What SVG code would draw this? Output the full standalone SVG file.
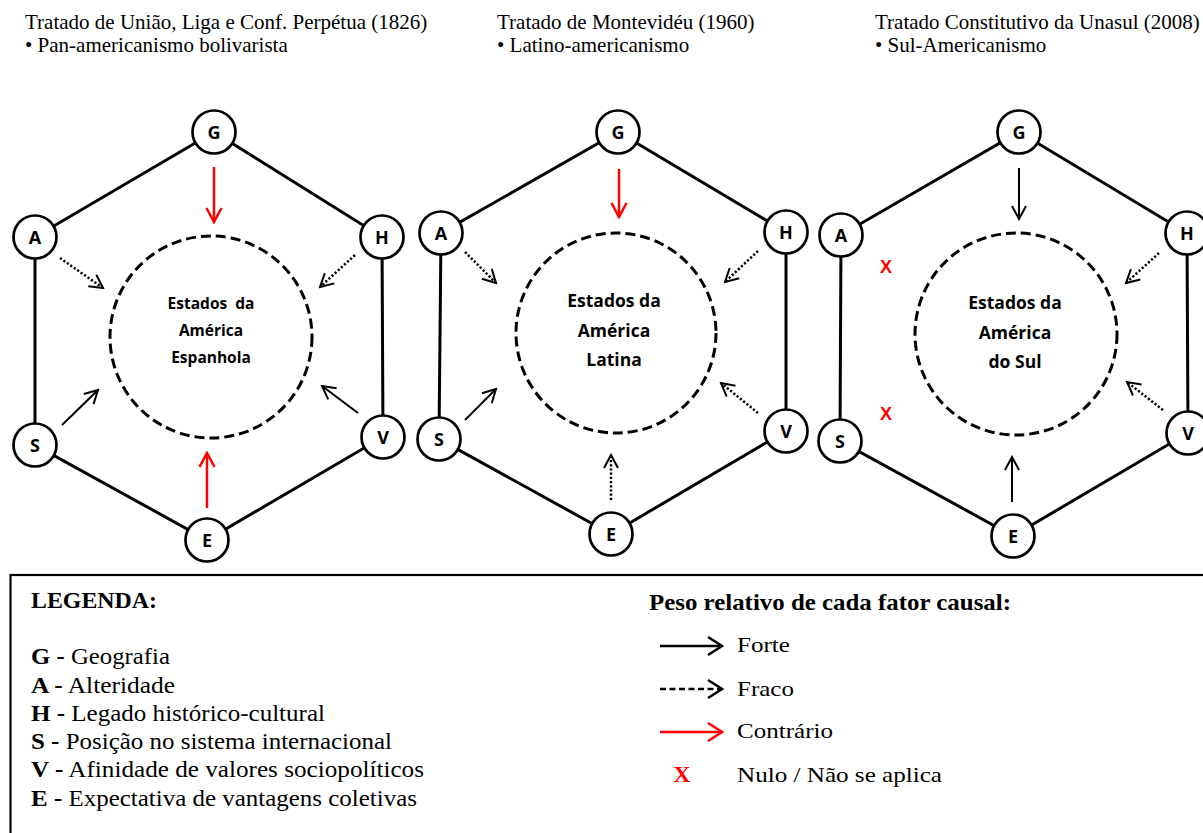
<svg xmlns="http://www.w3.org/2000/svg" width="1203" height="833" viewBox="0 0 1203 833">
  <style>
    .title { font-family: "Liberation Serif", "Times New Roman", serif; font-size: 21px; fill: #000; }
    .edge { stroke: #000; stroke-width: 3; fill: none; }
    .node circle { fill: #fff; stroke: #000; stroke-width: 2.7; }
    .node text { font-family: "Open Sans", "Noto Sans", sans-serif; font-weight: 700; font-size: 18px; text-anchor: middle; fill: #000; }
    .core { fill: none; stroke: #000; stroke-width: 3; stroke-dasharray: 10 5; }
    .core-label { font-family: "Open Sans", "Noto Sans", sans-serif; font-weight: 700; font-size: 17.5px; text-anchor: middle; fill: #000; }
    .core-label.small { font-size: 15.5px; }
    .strong { stroke: #000; stroke-width: 2; fill: none; marker-end: url(#hd-black); }
    .weak { stroke: #000; stroke-width: 2.5; stroke-dasharray: 2.2 2; fill: none; marker-end: url(#hd-black); }
    .contrary { stroke: #ff0000; stroke-width: 2.5; fill: none; marker-end: url(#hd-red); }
    .null { font-family: "Liberation Sans", Arial, sans-serif; font-weight: 700; font-size: 18px; fill: #ff0000; text-anchor: middle; }
    .leg { font-family: "Liberation Serif", "Times New Roman", serif; font-size: 23px; fill: #000; }
    .leg-r { font-family: "Liberation Serif", "Times New Roman", serif; font-size: 22px; fill: #000; }
    .leg-b { font-family: "Liberation Serif", "Times New Roman", serif; font-size: 22.5px; font-weight: 700; fill: #000; }
    .leg-x { font-family: "Liberation Serif", "Times New Roman", serif; font-size: 24px; font-weight: 700; fill: #ff0000; text-anchor: middle; }
  </style>
  <defs>
    <marker id="hd-black" viewBox="-16 -10 18 20" markerWidth="18" markerHeight="20" refX="0" refY="0" orient="auto" markerUnits="userSpaceOnUse">
      <path d="M-13,-7 L0,0 L-13,7" fill="none" stroke="#000" stroke-width="2"/>
    </marker>
    <marker id="hd-red" viewBox="-16 -10 18 20" markerWidth="18" markerHeight="20" refX="0" refY="0" orient="auto" markerUnits="userSpaceOnUse">
      <path d="M-14,-7.5 L0,0 L-14,7.5" fill="none" stroke="#ff0000" stroke-width="2.5"/>
    </marker>
    <marker id="lg-black" viewBox="-18 -12 20 24" markerWidth="20" markerHeight="24" refX="0" refY="0" orient="auto" markerUnits="userSpaceOnUse">
      <path d="M-14,-9 L0,0 L-14,9" fill="none" stroke="#000" stroke-width="2.5"/>
    </marker>
    <marker id="lg-red" viewBox="-18 -12 20 24" markerWidth="20" markerHeight="24" refX="0" refY="0" orient="auto" markerUnits="userSpaceOnUse">
      <path d="M-14,-9 L0,0 L-14,9" fill="none" stroke="#ff0000" stroke-width="2.5"/>
    </marker>
  </defs>

  <rect width="1203" height="833" fill="#fff"/>

  <!-- Headings above each hexagon -->
  <g id="titles">
    <text class="title" x="25" y="29">Tratado de União, Liga e Conf. Perpétua (1826)</text>
    <text class="title" x="25" y="52">• Pan-americanismo bolivarista</text>
    <text class="title" x="497" y="29">Tratado de Montevidéu (1960)</text>
    <text class="title" x="497" y="52">• Latino-americanismo</text>
    <text class="title" x="875" y="29">Tratado Constitutivo da Unasul (2008)</text>
    <text class="title" x="875" y="52">• Sul-Americanismo</text>
  </g>

  <!-- Hexagon outlines and causal arrows -->
  <g id="connectors">
    <!-- hexagon 1 -->
    <polyline class="edge" points="214,132 382,237 383,437 207,540 35,445 35,237 214,132"/>
    <!-- hexagon 2 -->
    <polyline class="edge" points="618,132 786,232 786,431 611,534 439,439 441,233 618,132"/>
    <!-- hexagon 3 -->
    <polyline class="edge" points="1019,132 1187,233 1188,433 1013,536 840,441 841,235 1019,132"/>

    <!-- arrows, hexagon 1 -->
    <line class="contrary" x1="214" y1="167" x2="214" y2="222"/>
    <line class="contrary" x1="207" y1="508" x2="207" y2="453"/>
    <line class="weak" x1="60" y1="258" x2="103" y2="288"/>
    <line class="weak" x1="355" y1="255" x2="320" y2="287"/>
    <line class="strong" x1="62" y1="425" x2="98" y2="390"/>
    <line class="strong" x1="358" y1="413" x2="322" y2="386"/>

    <!-- arrows, hexagon 2 -->
    <line class="contrary" x1="619" y1="169" x2="619" y2="217"/>
    <line class="weak" x1="465" y1="252" x2="496" y2="283"/>
    <line class="weak" x1="758" y1="251" x2="725" y2="282"/>
    <line class="strong" x1="465" y1="420" x2="496" y2="389"/>
    <line class="weak" x1="758" y1="413" x2="721" y2="383"/>
    <line class="weak" x1="611" y1="500" x2="611" y2="455"/>

    <!-- arrows, hexagon 3 -->
    <line class="strong" x1="1019" y1="168" x2="1019" y2="219"/>
    <line class="weak" x1="1159" y1="253" x2="1126" y2="283"/>
    <line class="weak" x1="1163" y1="410" x2="1127" y2="382"/>
    <line class="strong" x1="1012" y1="502" x2="1012" y2="457"/>
  </g>

  <!-- Null markers -->
  <g id="nulls">
    <text class="null" x="886" y="273">X</text>
    <text class="null" x="886" y="420">X</text>
  </g>

  <!-- Central groupings -->
  <g id="core-1">
    <circle class="core" cx="211" cy="337" r="101"/>
    <text class="core-label small" x="211" y="309" xml:space="preserve">Estados  da</text>
    <text class="core-label small" x="211" y="336">América</text>
    <text class="core-label small" x="211" y="363">Espanhola</text>
  </g>
  <g id="core-2">
    <circle class="core" cx="616" cy="333" r="100"/>
    <text class="core-label" x="614" y="307">Estados da</text>
    <text class="core-label" x="614" y="337">América</text>
    <text class="core-label" x="614" y="366">Latina</text>
  </g>
  <g id="core-3">
    <circle class="core" cx="1016" cy="334" r="101"/>
    <text class="core-label" x="1015" y="309">Estados da</text>
    <text class="core-label" x="1015" y="339">América</text>
    <text class="core-label" x="1015" y="368">do Sul</text>
  </g>

  <!-- Factor nodes, hexagon 1 -->
  <g id="h1-G" class="node"><circle cx="214" cy="132" r="21.5"/><text x="214" y="138.5">G</text></g>
  <g id="h1-A" class="node"><circle cx="35" cy="237" r="21.5"/><text x="35" y="243.5">A</text></g>
  <g id="h1-H" class="node"><circle cx="382" cy="237" r="21.5"/><text x="382" y="243.5">H</text></g>
  <g id="h1-S" class="node"><circle cx="35" cy="445" r="21.5"/><text x="35" y="451.5">S</text></g>
  <g id="h1-V" class="node"><circle cx="383" cy="437" r="21.5"/><text x="383" y="443.5">V</text></g>
  <g id="h1-E" class="node"><circle cx="207" cy="540" r="21.5"/><text x="207" y="546.5">E</text></g>

  <!-- Factor nodes, hexagon 2 -->
  <g id="h2-G" class="node"><circle cx="618" cy="132" r="21.5"/><text x="618" y="138.5">G</text></g>
  <g id="h2-A" class="node"><circle cx="441" cy="233" r="21.5"/><text x="441" y="239.5">A</text></g>
  <g id="h2-H" class="node"><circle cx="786" cy="232" r="21.5"/><text x="786" y="238.5">H</text></g>
  <g id="h2-S" class="node"><circle cx="439" cy="439" r="21.5"/><text x="439" y="445.5">S</text></g>
  <g id="h2-V" class="node"><circle cx="786" cy="431" r="21.5"/><text x="786" y="437.5">V</text></g>
  <g id="h2-E" class="node"><circle cx="611" cy="534" r="21.5"/><text x="611" y="540.5">E</text></g>

  <!-- Factor nodes, hexagon 3 -->
  <g id="h3-G" class="node"><circle cx="1019" cy="132" r="21.5"/><text x="1019" y="138.5">G</text></g>
  <g id="h3-A" class="node"><circle cx="841" cy="235" r="21.5"/><text x="841" y="241.5">A</text></g>
  <g id="h3-H" class="node"><circle cx="1187" cy="233" r="21.5"/><text x="1187" y="239.5">H</text></g>
  <g id="h3-S" class="node"><circle cx="840" cy="441" r="21.5"/><text x="840" y="447.5">S</text></g>
  <g id="h3-V" class="node"><circle cx="1188" cy="433" r="21.5"/><text x="1188" y="439.5">V</text></g>
  <g id="h3-E" class="node"><circle cx="1013" cy="536" r="21.5"/><text x="1013" y="542.5">E</text></g>

  <!-- Legend -->
  <g id="legend">
    <rect x="10.5" y="575" width="1210" height="280" fill="#fff" stroke="#000" stroke-width="2.2"/>
    <text class="leg-b" x="31" y="608" textLength="126" lengthAdjust="spacingAndGlyphs">LEGENDA:</text>
    <text class="leg" x="31" y="664" textLength="139" lengthAdjust="spacingAndGlyphs"><tspan font-weight="700">G -</tspan> Geografia</text>
    <text class="leg" x="31" y="693" textLength="144" lengthAdjust="spacingAndGlyphs"><tspan font-weight="700">A -</tspan> Alteridade</text>
    <text class="leg" x="31" y="721" textLength="294" lengthAdjust="spacingAndGlyphs"><tspan font-weight="700">H -</tspan> Legado histórico-cultural</text>
    <text class="leg" x="31" y="749" textLength="361" lengthAdjust="spacingAndGlyphs"><tspan font-weight="700">S -</tspan> Posição no sistema internacional</text>
    <text class="leg" x="31" y="777" textLength="393" lengthAdjust="spacingAndGlyphs"><tspan font-weight="700">V -</tspan> Afinidade de valores sociopolíticos</text>
    <text class="leg" x="31" y="806" textLength="386" lengthAdjust="spacingAndGlyphs"><tspan font-weight="700">E -</tspan> Expectativa de vantagens coletivas</text>

    <text class="leg-b" x="649" y="610" textLength="362" lengthAdjust="spacingAndGlyphs">Peso relativo de cada fator causal:</text>
    <line x1="660" y1="646" x2="722" y2="646" stroke="#000" stroke-width="2.5" marker-end="url(#lg-black)"/>
    <text class="leg-r" x="737" y="652" textLength="53" lengthAdjust="spacingAndGlyphs">Forte</text>
    <line x1="660" y1="689" x2="722" y2="689" stroke="#000" stroke-width="2.5" stroke-dasharray="6 3.5" marker-end="url(#lg-black)"/>
    <text class="leg-r" x="737" y="696" textLength="57" lengthAdjust="spacingAndGlyphs">Fraco</text>
    <line x1="660" y1="732" x2="722" y2="732" stroke="#ff0000" stroke-width="2.5" marker-end="url(#lg-red)"/>
    <text class="leg-r" x="737" y="738" textLength="96" lengthAdjust="spacingAndGlyphs">Contrário</text>
    <text class="leg-x" x="682" y="782">X</text>
    <text class="leg-r" x="737" y="782" textLength="205" lengthAdjust="spacingAndGlyphs">Nulo / Não se aplica</text>
  </g>
</svg>
